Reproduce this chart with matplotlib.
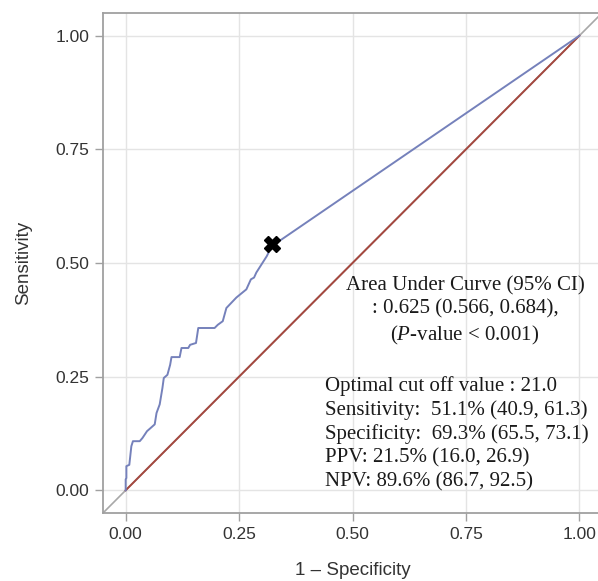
import matplotlib.pyplot as plt

# ROC curve points (1 - specificity, sensitivity)
fpr = [0.0, 0.0, 0.0015, 0.0015, 0.008, 0.0125, 0.016, 0.031, 0.037, 0.047,
       0.055, 0.064, 0.068, 0.075, 0.081, 0.084, 0.092, 0.098, 0.101, 0.119,
       0.123, 0.138, 0.142, 0.155, 0.160, 0.196, 0.203, 0.214, 0.222, 0.244,
       0.266, 0.276, 0.283, 0.288, 0.311, 0.322, 1.0]
tpr = [0.0, 0.024, 0.027, 0.053, 0.056, 0.097, 0.108, 0.108, 0.115, 0.130,
       0.137, 0.145, 0.170, 0.189, 0.225, 0.247, 0.254, 0.276, 0.293, 0.293,
       0.313, 0.313, 0.320, 0.324, 0.357, 0.357, 0.364, 0.372, 0.401, 0.424,
       0.442, 0.464, 0.468, 0.479, 0.515, 0.537, 1.0]
cut_x, cut_y = 0.322, 0.542

ref_x = [0, 1]
ref_y = [0, 1]

ticks = [0.0, 0.25, 0.5, 0.75, 1.0]
tick_labels = ["0.00", "0.25", "0.50", "0.75", "1.00"]

auc_text = "Area Under Curve (95% CI)\n: 0.625 (0.566, 0.684),\n($\\mathit{P}$-value < 0.001)"
stats_text = ("Optimal cut off value : 21.0\n"
              "Sensitivity:  51.1% (40.9, 61.3)\n"
              "Specificity:  69.3% (65.5, 73.1)\n"
              "PPV: 21.5% (16.0, 26.9)\n"
              "NPV: 89.6% (86.7, 92.5)")

plt.rcParams['mathtext.fontset'] = 'custom'
plt.rcParams['mathtext.it'] = 'Liberation Serif:italic'
plt.rcParams['mathtext.rm'] = 'Liberation Serif'

fig = plt.figure(figsize=(5.98, 5.81), dpi=100)
ax = fig.add_axes([103 / 598, 1 - 513 / 581, 499 / 598, 500 / 581])

# gray diagonal behind everything
ax.plot([-0.1, 1.1], [-0.1, 1.1], color="#a8a8a8", lw=1.2, zorder=1)
ax.plot(ref_x, ref_y, color="#a5483f", lw=1.4, zorder=2)
ax.plot(fpr, tpr, color="#7581bb", lw=1.4, zorder=3)
ax.plot(cut_x, cut_y, marker="X", color="black", markersize=12, zorder=4)

ax.set_xlim(-0.05, 1.05)
ax.set_ylim(-0.05, 1.05)
ax.set_xticks(ticks)
ax.set_yticks(ticks)
ax.set_xticklabels(tick_labels)
ax.set_yticklabels(tick_labels)
ax.grid(True, color="#e4e4e4", lw=1)
ax.set_axisbelow(True)

for s in ax.spines.values():
    s.set_color("#a0a0a0")
    s.set_linewidth(1.3)

ax.tick_params(direction="out", length=6, width=1, color="#a0a0a0",
               labelsize=12.5, labelcolor="#333333", pad=4)
for lbl in ax.get_xticklabels() + ax.get_yticklabels():
    lbl.set_family("Liberation Sans")

ax.set_xlabel("1 \u2013 Specificity", family="Liberation Sans", fontsize=13.5, color="#333333")
ax.set_ylabel("Sensitivity", family="Liberation Sans", fontsize=13.5, color="#333333")
ax.xaxis.set_label_coords(0.5, -0.098)
ax.yaxis.set_label_coords(-0.142, 0.5)

fig.text(465 / 598, 1 - 276 / 581, auc_text, family="Liberation Serif", fontsize=15,
         ha="center", va="top", linespacing=1.3, color="#1a1a1a")
fig.text(325 / 598, 1 - 376 / 581, stats_text, family="Liberation Serif", fontsize=15,
         ha="left", va="top", linespacing=1.3, color="#1a1a1a")

fig.savefig("out.png", dpi=100)
